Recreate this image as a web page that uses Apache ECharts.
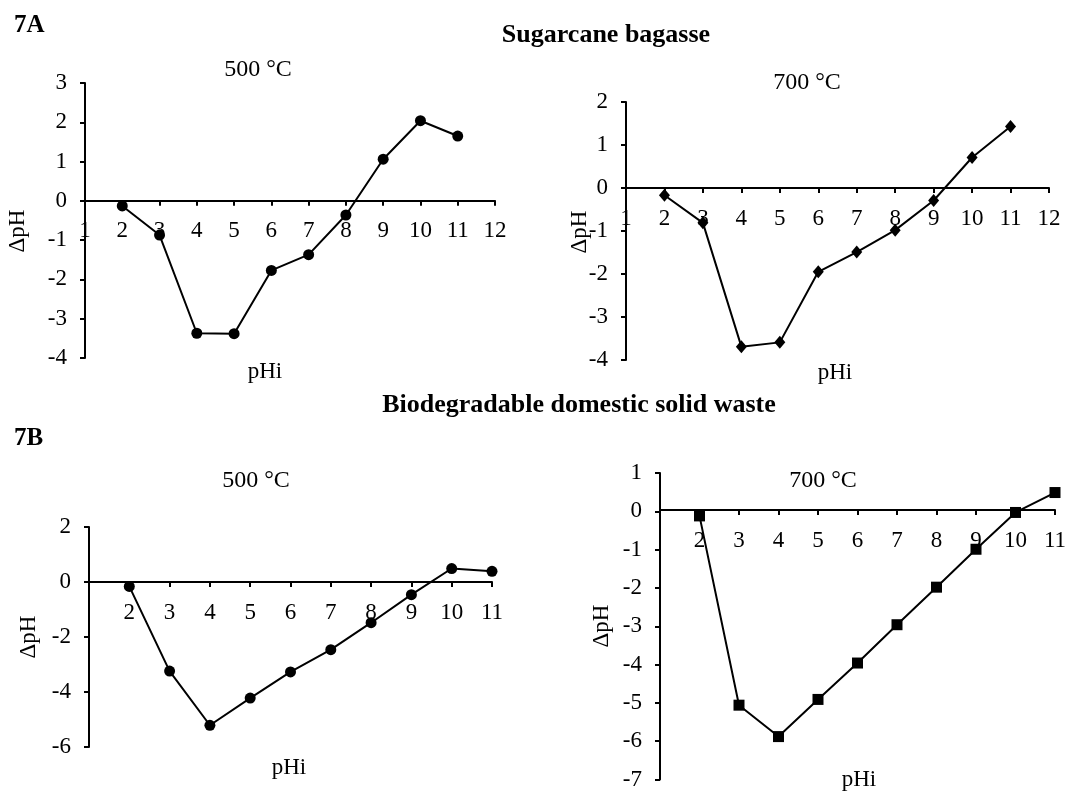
<!DOCTYPE html>
<html>
<head>
<meta charset="utf-8">
<script src="https://cdn.jsdelivr.net/npm/echarts@6/dist/echarts.min.js"></script>
<style>
  html, body { margin: 0; padding: 0; background: #fff; }
  #chart { width: 1091px; height: 791px; }
</style>
</head>
<body>
<div id="chart"></div>
<script>
// ---- Data ----
const pHi = [2, 3, 4, 5, 6, 7, 8, 9, 10, 11];
const sugarcane500 = [-0.13, -0.87, -3.37, -3.38, -1.77, -1.37, -0.36, 1.06, 2.04, 1.65];
const sugarcane700 = [-0.17, -0.81, -3.69, -3.59, -1.95, -1.49, -0.98, -0.29, 0.71, 1.43];
const waste500 = [-0.16, -3.24, -5.21, -4.22, -3.27, -2.46, -1.48, -0.46, 0.49, 0.39];
const waste700 = [-0.12, -5.06, -5.88, -4.91, -3.96, -2.96, -1.98, -0.99, -0.03, 0.49];

const panelTitles = ['500 °C', '700 °C', '500 °C', '700 °C'];
const sectionTitles = ['Sugarcane bagasse', 'Biodegradable domestic solid waste'];
const figureLabels = ['7A', '7B'];
const xAxisName = 'pHi';
const yAxisName = 'ΔpH';

const xRanges = [[1, 12], [1, 12], [1, 11], [1, 11]];
const yRanges = [[-4, 3, 1], [-4, 2, 1], [-6, 2, 2], [-7, 1, 1]];
const symbols = ['circle', 'diamond', 'circle', 'rect'];
const seriesData = [sugarcane500, sugarcane700, waste500, waste700];

// ---- Layout ----
const FONT = 'Liberation Serif, Times New Roman, serif';
const FS = 23;
const grids = [
  { left: 85, top: 83, width: 410, height: 275 },
  { left: 626, top: 102, width: 423, height: 258 },
  { left: 89, top: 527, width: 403, height: 220 },
  { left: 660, top: 473, width: 395, height: 308 }
];
const symbolSizes = [11, [11, 13], 11, 11];

const chart = echarts.init(document.getElementById('chart'), null, { renderer: 'canvas' });

const labelStyle = { color: '#000', fontFamily: FONT, fontSize: FS };

// x axis sits on the zero line of its y axis: shift it up from the grid bottom
function zeroOffset(i) {
  const g = grids[i], r = yRanges[i];
  return -(g.height * (0 - r[0]) / (r[1] - r[0]));
}

const xAxes = xRanges.map((r, i) => ({
  type: 'value', gridIndex: i, min: r[0], max: r[1], interval: 1,
  position: 'bottom', offset: zeroOffset(i),
  axisLine: { show: true, onZero: false, lineStyle: { color: '#000', width: 2 } },
  axisTick: { show: true, length: 5, lineStyle: { color: '#000', width: 2 } },
  axisLabel: Object.assign({ margin: 19, showMinLabel: i < 2 }, labelStyle),
  splitLine: { show: false }
}));
const yAxes = yRanges.map((r, i) => ({
  type: 'value', gridIndex: i, min: r[0], max: r[1], interval: r[2],
  axisLine: { show: true, onZero: false, lineStyle: { color: '#000', width: 2 } },
  axisTick: { show: true, length: 5, lineStyle: { color: '#000', width: 2 } },
  axisLabel: Object.assign({ margin: 18 }, labelStyle),
  splitLine: { show: false }
}));

const series = seriesData.map((vals, i) => ({
  type: 'line', xAxisIndex: i, yAxisIndex: i,
  data: pHi.map((x, k) => [x, vals[k]]),
  symbol: symbols[i], symbolSize: symbolSizes[i],
  lineStyle: { color: '#000', width: 2 },
  itemStyle: { color: '#000' },
  emphasis: { disabled: true },
  z: 5
}));

function txt(text, x, y, opts) {
  opts = opts || {};
  return {
    type: 'text', x: x, y: y, rotation: opts.rotation || 0, z: 10,
    style: {
      text: text, fill: '#000',
      font: (opts.bold ? 'bold ' : '') + (opts.size || FS) + 'px ' + FONT,
      textAlign: opts.align || 'center', textVerticalAlign: 'middle'
    }
  };
}

const graphics = [
  txt(figureLabels[0], 14, 26, { bold: true, size: 25, align: 'left' }),
  txt(figureLabels[1], 14, 439, { bold: true, size: 25, align: 'left' }),
  txt(sectionTitles[0], 606, 35, { bold: true, size: 26 }),
  txt(sectionTitles[1], 579, 405, { bold: true, size: 26 }),
  txt(panelTitles[0], 258, 70, { size: 24 }),
  txt(panelTitles[1], 807, 83, { size: 24 }),
  txt(panelTitles[2], 256, 481, { size: 24 }),
  txt(panelTitles[3], 823, 481, { size: 24 }),
  txt(xAxisName, 265, 372),
  txt(xAxisName, 835, 373),
  txt(xAxisName, 289, 768),
  txt(xAxisName, 859, 780),
  txt(yAxisName, 18, 231, { rotation: Math.PI / 2 }),
  txt(yAxisName, 580, 232, { rotation: Math.PI / 2 }),
  txt(yAxisName, 29, 637, { rotation: Math.PI / 2 }),
  txt(yAxisName, 602, 626, { rotation: Math.PI / 2 })
];

chart.setOption({
  animation: false,
  backgroundColor: '#fff',
  grid: grids.map(g => Object.assign({ containLabel: false }, g)),
  xAxis: xAxes,
  yAxis: yAxes,
  series: series,
  graphic: graphics
});
</script>
</body>
</html>
